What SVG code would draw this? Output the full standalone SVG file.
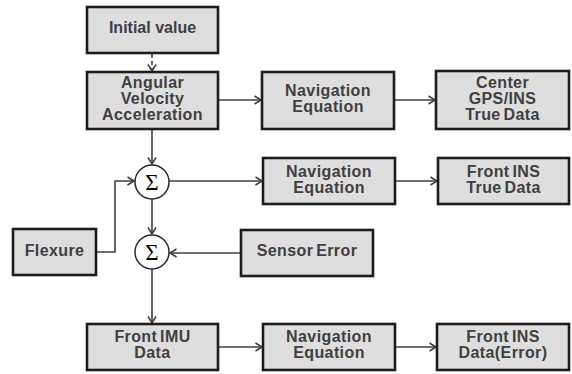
<svg xmlns="http://www.w3.org/2000/svg" width="572" height="374" viewBox="0 0 572 374">
<defs>
<style>
.box{fill:#dedede;stroke:#1c1c1c;stroke-width:2.6}
.t{font-family:"Liberation Sans",Arial,sans-serif;font-weight:bold;font-size:16px;fill:#404040;text-anchor:middle;letter-spacing:0.4px;word-spacing:-2px}
.c{fill:#ffffff;stroke:#2a2a2a;stroke-width:1.5}
.sig{font-family:"Liberation Serif","Times New Roman",serif;font-size:23px;fill:#000;text-anchor:middle}
.ln{fill:none;stroke:#404040;stroke-width:1.6}
</style>
<marker id="ah" markerWidth="10" markerHeight="10" refX="8" refY="5" orient="auto" markerUnits="userSpaceOnUse">
<path d="M1.5,1 L8,5 L1.5,9" fill="none" stroke="#404040" stroke-width="1.6"/>
</marker>
</defs>
<rect width="572" height="374" fill="#ffffff"/>
<g id="connectors">
<line class="ln" x1="152" y1="54" x2="152" y2="71" stroke-dasharray="4,3" marker-end="url(#ah)"/>
<line class="ln" x1="218" y1="100" x2="261" y2="100" marker-end="url(#ah)"/>
<line class="ln" x1="394" y1="100" x2="435" y2="100" marker-end="url(#ah)"/>
<line class="ln" x1="152" y1="129" x2="152" y2="164" marker-end="url(#ah)"/>
<line class="ln" x1="169" y1="181" x2="262" y2="181" marker-end="url(#ah)"/>
<line class="ln" x1="395" y1="181" x2="437" y2="181" marker-end="url(#ah)"/>
<polyline class="ln" points="96,252 115,252 115,181 134,181" marker-end="url(#ah)"/>
<line class="ln" x1="152" y1="199" x2="152" y2="234" marker-end="url(#ah)"/>
<line class="ln" x1="241" y1="253" x2="170" y2="253" marker-end="url(#ah)"/>
<line class="ln" x1="152" y1="269" x2="152" y2="323" marker-end="url(#ah)"/>
<line class="ln" x1="218" y1="347" x2="262" y2="347" marker-end="url(#ah)"/>
<line class="ln" x1="395" y1="347" x2="436" y2="347" marker-end="url(#ah)"/>
</g>
<g id="initial">
<rect class="box" x="87" y="7" width="131" height="46"/>
<text class="t" x="152.5" y="33" style="letter-spacing:0;word-spacing:0">Initial value</text>
</g>
<g id="angular">
<rect class="box" x="87" y="72" width="131" height="57"/>
<text class="t" x="152.5" y="88">Angular</text>
<text class="t" x="152.5" y="104">Velocity</text>
<text class="t" x="152.5" y="120">Acceleration</text>
</g>
<g id="nav1">
<rect class="box" x="262" y="72" width="132" height="57"/>
<text class="t" x="328" y="96">Navigation</text>
<text class="t" x="328" y="112">Equation</text>
</g>
<g id="center">
<rect class="box" x="436" y="71" width="133" height="58"/>
<text class="t" x="502.5" y="88">Center</text>
<text class="t" x="502.5" y="104">GPS/INS</text>
<text class="t" x="502.5" y="120">True Data</text>
</g>
<g id="sum1">
<circle class="c" cx="152" cy="182" r="17"/>
<text class="sig" x="152" y="189.5">Σ</text>
</g>
<g id="nav2">
<rect class="box" x="263" y="158" width="132" height="46"/>
<text class="t" x="329" y="177">Navigation</text>
<text class="t" x="329" y="193">Equation</text>
</g>
<g id="frontins">
<rect class="box" x="438" y="158" width="131" height="46"/>
<text class="t" x="503.5" y="177">Front INS</text>
<text class="t" x="503.5" y="193">True Data</text>
</g>
<g id="flexure">
<rect class="box" x="13" y="229" width="83" height="46"/>
<text class="t" x="54.5" y="256">Flexure</text>
</g>
<g id="sum2">
<circle class="c" cx="152" cy="252" r="17"/>
<text class="sig" x="152" y="259.5">Σ</text>
</g>
<g id="sensor">
<rect class="box" x="241" y="230" width="132" height="46"/>
<text class="t" x="307" y="256">Sensor Error</text>
</g>
<g id="frontimu">
<rect class="box" x="87" y="324" width="131" height="46"/>
<text class="t" x="152.5" y="342">Front IMU</text>
<text class="t" x="152.5" y="358">Data</text>
</g>
<g id="nav3">
<rect class="box" x="263" y="324" width="132" height="46"/>
<text class="t" x="329" y="342">Navigation</text>
<text class="t" x="329" y="358">Equation</text>
</g>
<g id="frontdata">
<rect class="box" x="437" y="324" width="132" height="46"/>
<text class="t" x="503" y="342">Front INS</text>
<text class="t" x="503" y="358">Data(Error)</text>
</g>
</svg>
